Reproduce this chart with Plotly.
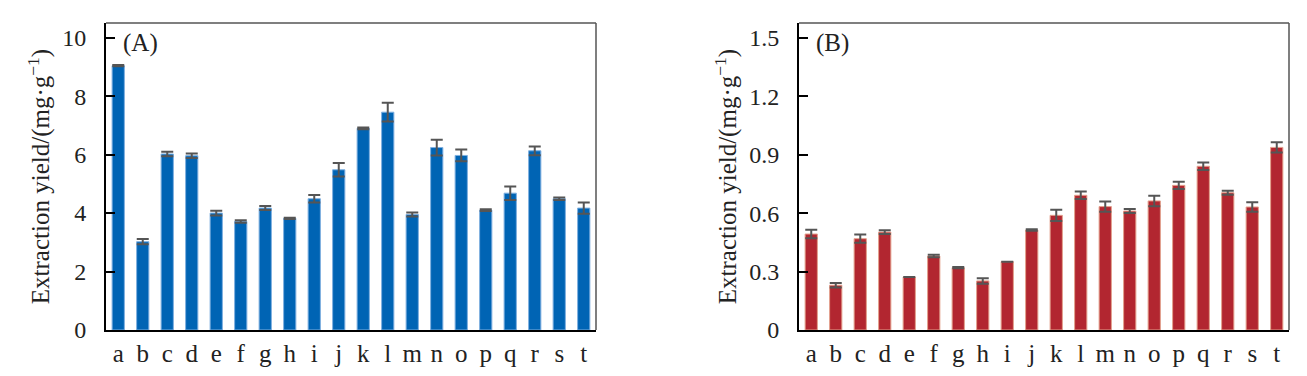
import plotly.graph_objects as go

categories = list("abcdefghijklmnopqrst")

yield_a = [9.04, 3.02, 6.02, 5.96, 4.00, 3.71, 4.17, 3.82, 4.49, 5.48,
           6.90, 7.45, 3.95, 6.24, 5.97, 4.10, 4.68, 6.13, 4.49, 4.17]
err_a = [0.02, 0.09, 0.08, 0.08, 0.08, 0.04, 0.07, 0.02, 0.13, 0.23,
         0.03, 0.32, 0.07, 0.27, 0.20, 0.03, 0.23, 0.15, 0.04, 0.19]

yield_b = [0.493, 0.230, 0.469, 0.503, 0.272, 0.380, 0.320, 0.252, 0.351, 0.514,
           0.589, 0.692, 0.634, 0.611, 0.663, 0.743, 0.841, 0.705, 0.632, 0.938]
err_b = [0.022, 0.012, 0.021, 0.010, 0.0, 0.006, 0.003, 0.014, 0.0, 0.004,
         0.029, 0.019, 0.026, 0.010, 0.027, 0.019, 0.019, 0.010, 0.024, 0.026]

ticks_a = [0, 2, 4, 6, 8, 10]
tick_text_a = ["0", "2", "4", "6", "8", "10"]
ticks_b = [0, 0.3, 0.6, 0.9, 1.2, 1.5]
tick_text_b = ["0", "0.3", "0.6", "0.9", "1.2", "1.5"]

FONT = "Liberation Serif"
FS = 25
TFS = 24
# page body has an 8px default margin, so the figure is 8px smaller
W, H = 1299, 368

fig = go.Figure()
fig.add_trace(go.Bar(
    x=categories, y=yield_a, xaxis="x", yaxis="y",
    marker=dict(color="#0064B4", line=dict(color="#7FB0E0", width=1)),
    error_y=dict(type="data", array=err_a, color="#555555", thickness=2, width=6),
    showlegend=False))
fig.add_trace(go.Bar(
    x=categories, y=yield_b, xaxis="x2", yaxis="y2",
    marker=dict(color="#B22630", line=dict(color="#E3A08C", width=1)),
    error_y=dict(type="data", array=err_b, color="#555555", thickness=2, width=6),
    showlegend=False))

dA = [98 / W, 588 / W]
dB = [791 / W, 1281 / W]

xcommon = dict(showline=True, linecolor="black", linewidth=2, ticks="",
               tickmode="linear", dtick=1, tickangle=0, ticklabelstandoff=0,
               tickfont=dict(family=FONT, size=FS, color="#222"),
               showgrid=False, zeroline=False, fixedrange=True)
ycommon = dict(showline=True, linecolor="black", linewidth=2, ticks="inside",
               ticklen=9, tickwidth=2, tickcolor="black",
               tickfont=dict(family=FONT, size=TFS, color="#222"),
               showgrid=False, zeroline=False, ticklabelstandoff=13,
               title=dict(text="Extraction yield/(mg·g<sup>−1</sup>)",
                          font=dict(family=FONT, size=FS, color="#222"), standoff=5))

fig.update_layout(
    width=W, height=H,
    font=dict(family=FONT, size=FS, color="#222"),
    margin=dict(l=0, r=0, t=15, b=46),
    plot_bgcolor="white", paper_bgcolor="white",
    bargap=0.5,
    xaxis=dict(domain=dA, anchor="y", **xcommon),
    yaxis=dict(domain=[0, 1], anchor="x", range=[0, 10.5], tickvals=ticks_a,
               ticktext=tick_text_a, **ycommon),
    xaxis2=dict(domain=dB, anchor="y2", **xcommon),
    yaxis2=dict(domain=[0, 1], anchor="x2", range=[0, 1.577], tickvals=ticks_b,
                ticktext=tick_text_b, **ycommon),
)

for xr, yr in [("x", "y"), ("x2", "y2")]:
    fig.add_shape(type="line", xref=f"{xr} domain", yref=f"{yr} domain",
                  x0=0, x1=1, y0=1, y1=1, line=dict(color="#555555", width=1.5))
    fig.add_shape(type="line", xref=f"{xr} domain", yref=f"{yr} domain",
                  x0=1, x1=1, y0=0, y1=1, line=dict(color="#555555", width=1.5))

for lab, xr, yr in [("(A)", "x", "y"), ("(B)", "x2", "y2")]:
    fig.add_annotation(text=lab, xref=f"{xr} domain", yref=f"{yr} domain",
                       x=0.031, y=0.935, xanchor="left", yanchor="middle",
                       showarrow=False, font=dict(family=FONT, size=FS, color="#222"))

fig.write_html("out.html")
